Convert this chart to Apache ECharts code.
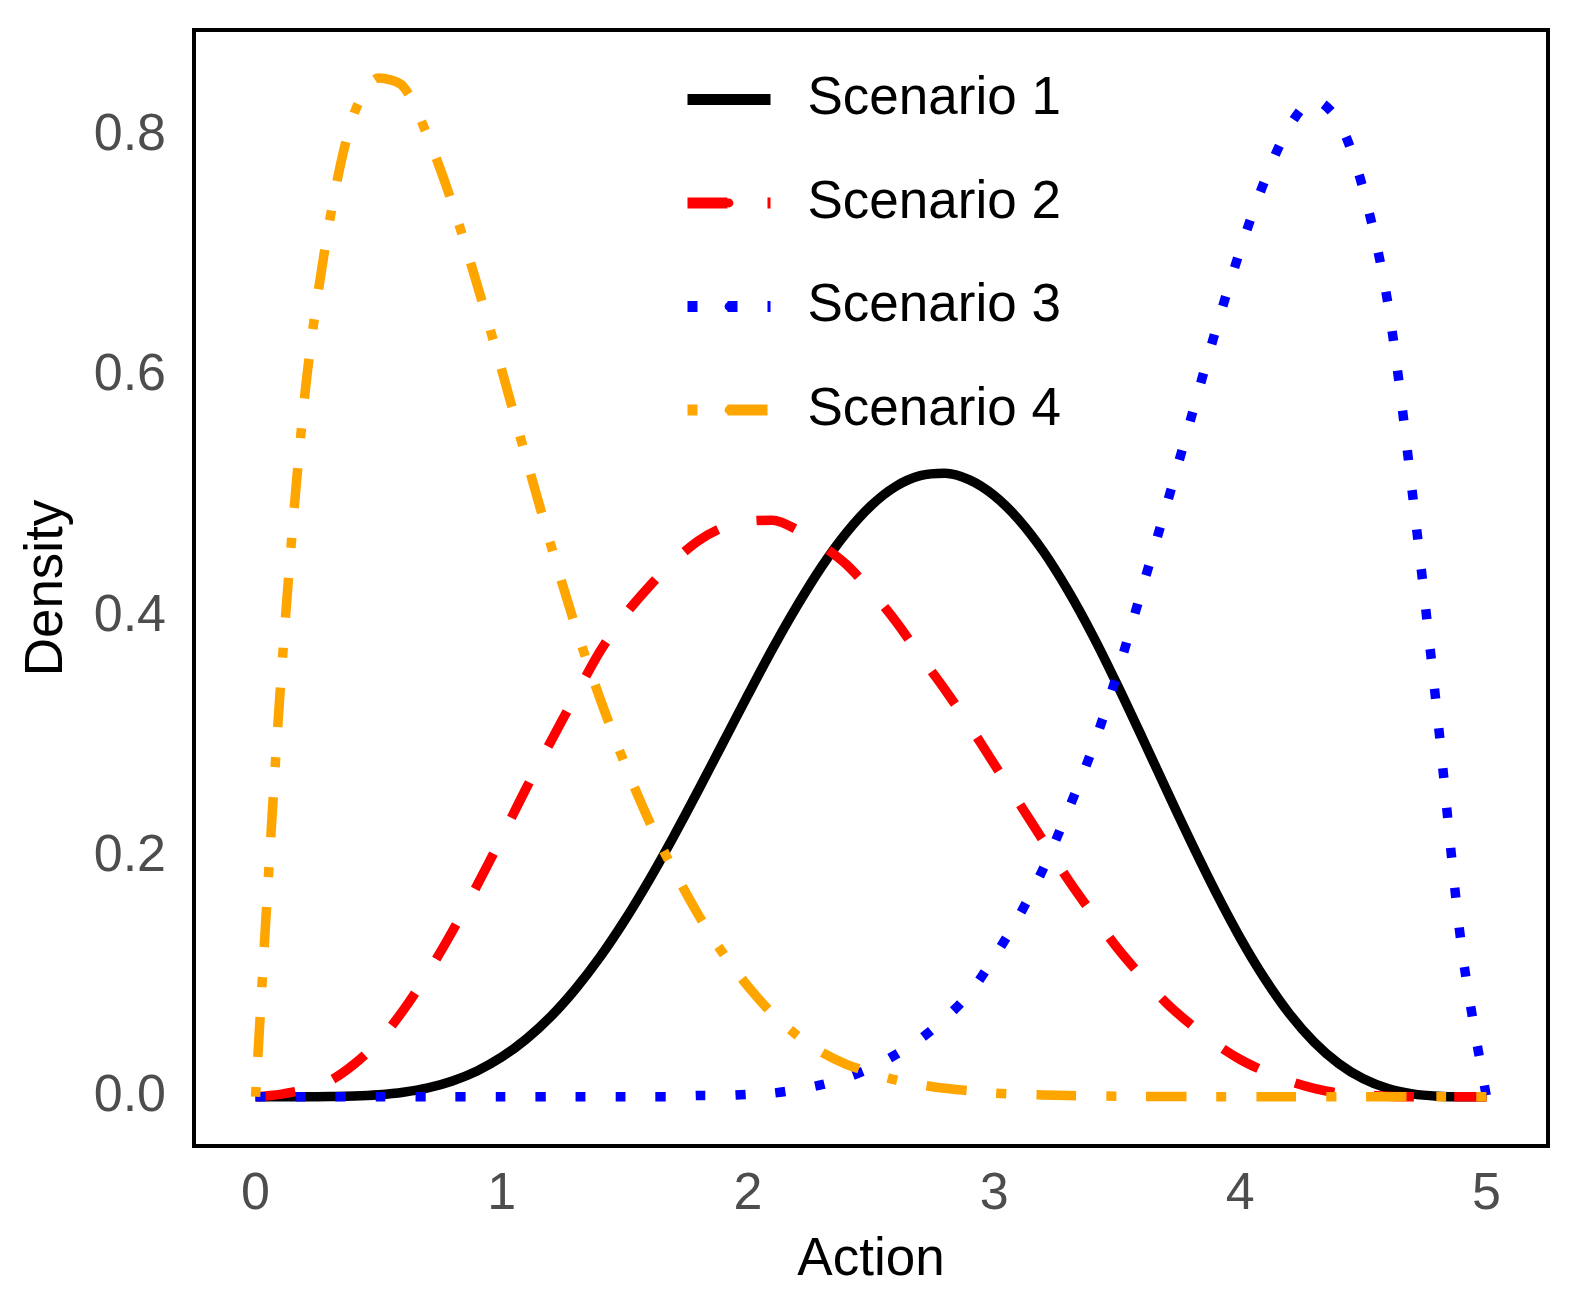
<!DOCTYPE html>
<html>
<head>
<meta charset="utf-8">
<title>Density</title>
<script src="https://cdn.jsdelivr.net/npm/echarts@6/dist/echarts.min.js"></script>
<style>
	html,body{margin:0;padding:0;background:#fff;}
	#main{width:1578px;height:1315px;}
</style>
</head>
<body>
<div id="main"></div>
<script>
	// action grid, step 0.1
	var xs = [0,0.1,0.2,0.3,0.4,0.5,0.6,0.7,0.8,0.9,
		1,1.1,1.2,1.3,1.4,1.5,1.6,1.7,1.8,1.9,
		2,2.1,2.2,2.3,2.4,2.5,2.6,2.7,2.8,2.9,
		3,3.1,3.2,3.3,3.4,3.5,3.6,3.7,3.8,3.9,
		4,4.1,4.2,4.3,4.4,4.5,4.6,4.7,4.8,4.9,5];

	var scenario1 = [0,0,0,0.0002,0.0006,0.0017,0.0038,0.0074,0.0132,0.0215,
		0.0330,0.0481,0.0669,0.0898,0.1165,0.1470,0.1808,0.2173,0.2557,0.2951,
		0.3344,0.3728,0.4087,0.4414,0.4695,0.4920,0.5080,0.5170,0.5190,0.5135,
		0.5005,0.4805,0.4540,0.4215,0.3843,0.3431,0.2997,0.2555,0.2120,0.1705,
		0.1321,0.0981,0.0690,0.0455,0.0276,0.0149,0.0068,0.0024,0.0005,0,0];

	var scenario2 = [0,0.002,0.006,0.013,0.027,0.046,0.072,0.103,0.138,0.176,
		0.216,0.257,0.296,0.334,0.371,0.401,0.425,0.446,0.463,0.474,
		0.479,0.480,0.472,0.459,0.443,0.421,0.396,0.367,0.339,0.309,
		0.277,0.245,0.213,0.181,0.152,0.124,0.100,0.078,0.060,0.044,
		0.031,0.021,0.013,0.007,0.003,0.0015,0.0005,0.0001,0,0,0];

	var scenario3 = [0,0,0,0,0,0,0,0,0,0,
		0,0,0,0,0,0,0,0,0.001,0.001,
		0.002,0.003,0.006,0.010,0.016,0.024,0.035,0.048,0.065,0.086,
		0.116,0.150,0.190,0.238,0.290,0.352,0.422,0.492,0.565,0.638,
		0.705,0.763,0.808,0.830,0.812,0.755,0.660,0.501,0.319,0.123,0];

	var scenario4 = [0,0.338,0.584,0.728,0.818,0.848,0.841,0.799,0.743,0.676,
		0.605,0.531,0.459,0.391,0.331,0.277,0.229,0.188,0.151,0.119,
		0.092,0.069,0.051,0.037,0.027,0.020,0.014,0.010,0.007,0.005,
		0.003,0.002,0.0015,0.001,0.0007,0.0005,0.0003,0.0002,0.0001,0,
		0,0,0,0,0,0,0,0,0,0,0];

	var names = ['Scenario 1','Scenario 2','Scenario 3','Scenario 4'];
	var xTicks = [0,1,2,3,4,5];
	var yTicks = [0,0.2,0.4,0.6,0.8];

	var font = '"Liberation Sans", Arial, sans-serif';

	function pairs(ys){
		var out = [];
		for(var i=0;i<xs.length;i++){
			out.push([xs[i], ys[i]]);
		}
		return out;
	}

	function line(name, ys, color, dash){
		return {
			name: name,
			type: 'line',
			data: pairs(ys),
			smooth: 0.3,
			showSymbol: false,
			symbol: 'none',
			lineStyle: {color: color, width: 9.5, type: dash, cap: 'butt', join: 'round'},
			itemStyle: {color: color}
		};
	}

	var chart = echarts.init(document.getElementById('main'));
	var option = {
		animation: false,
		backgroundColor: '#fff',
		grid: {
			left: 194, top: 30, width: 1354, height: 1116,
			show: true, borderColor: '#000', borderWidth: 4
		},
		legend: {
			orient: 'vertical',
			left: 677, top: 68,
			itemWidth: 83, itemHeight: 11,
			itemGap: 50.5,
			lineStyle: {width: 11},
			data: names,
			formatter: '{t|{name}}',
			textStyle: {
				rich: {t: {fontSize: 53, fontFamily: font, color: '#000', lineHeight: 60, padding: [0,0,0,32]}}
			}
		},
		xAxis: {
			type: 'value', min: -0.25, max: 5.25,
			name: 'Action', nameLocation: 'middle', nameGap: 88,
			nameTextStyle: {fontSize: 53, fontFamily: font, color: '#000'},
			axisLine: {show: false}, axisTick: {show: false}, splitLine: {show: false},
			axisLabel: {customValues: xTicks, margin: 23, fontSize: 52, fontFamily: font, color: '#4D4D4D'}
		},
		yAxis: {
			type: 'value', min: -0.041, max: 0.888,
			name: 'Density', nameLocation: 'middle', nameGap: 120,
			nameTextStyle: {fontSize: 53, fontFamily: font, color: '#000'},
			axisLine: {show: false}, axisTick: {show: false}, splitLine: {show: false},
			axisLabel: {
				customValues: yTicks, margin: 28, fontSize: 52, fontFamily: font, color: '#4D4D4D',
				formatter: function(v){ return v.toFixed(1); }
			}
		},
		series: [
			line(names[0], scenario1, '#000000', 'solid'),
			line(names[1], scenario2, '#FF0000', [40,40]),
			line(names[2], scenario3, '#0000FF', [10,30]),
			line(names[3], scenario4, '#FFA500', [10,30,40,30])
		]
	};
	chart.setOption(option);
</script>
</body>
</html>
